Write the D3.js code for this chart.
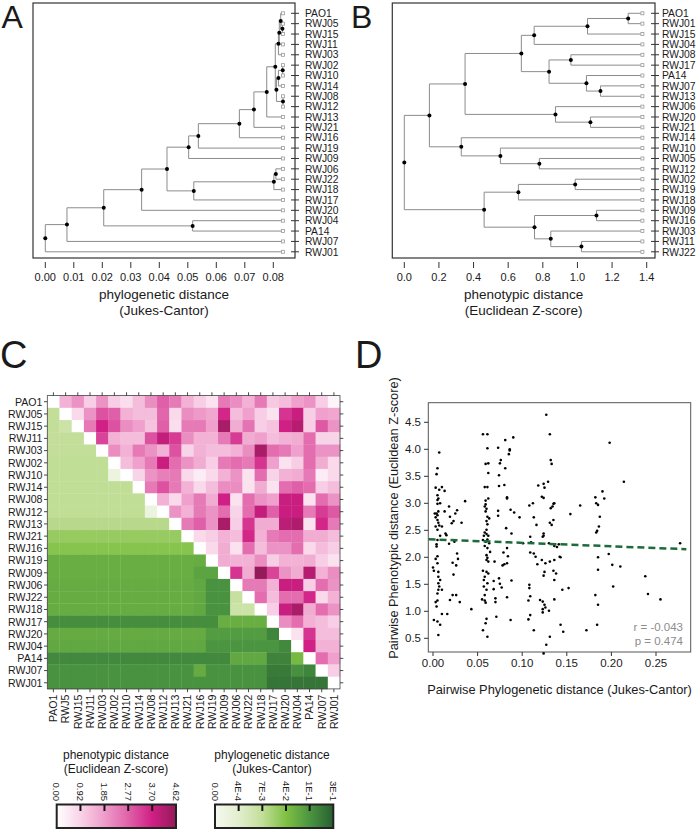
<!DOCTYPE html>
<html><head><meta charset="utf-8">
<script src="https://cdn.jsdelivr.net/npm/d3@7"></script>
<style>
body{margin:0;background:#fff}
svg{display:block}
text{font-family:"Liberation Sans",Arial,sans-serif;fill:#1a1a1a}
</style>
</head><body>
<svg id="c" width="700" height="831"></svg>
<script>
// ---------------- DATA ----------------
// Panel A: phylogenetic tree (Jukes-Cantor)
const leavesA = ["PAO1","RWJ05","RWJ15","RWJ11","RWJ03","RWJ02","RWJ10","RWJ14","RWJ08","RWJ12","RWJ13","RWJ21","RWJ16","RWJ19","RWJ09","RWJ06","RWJ22","RWJ18","RWJ17","RWJ20","RWJ04","PA14","RWJ07","RWJ01"];
const tipA = 0.0836;
// merges: [child, child, node position]; numbers refer to earlier merges
const mergesA = [
  ["RWJ05","RWJ15",0.0832],[ "PAO1",0,0.0826],[1,"RWJ11",0.0821],[2,"RWJ03",0.0818],
  ["RWJ02","RWJ10",0.0833],[4,"RWJ14",0.0818],["RWJ08","RWJ12",0.0834],[5,6,0.0811],
  [3,7,0.0807],[8,"RWJ13",0.0777],[9,"RWJ21",0.0732],[10,"RWJ16",0.0681],
  [11,"RWJ19",0.0537],[12,"RWJ09",0.0503],["RWJ06","RWJ22",0.0809],[14,"RWJ18",0.0802],
  [15,"RWJ17",0.0521],[13,16,0.0427],[17,"RWJ20",0.0338],["RWJ04","PA14",0.0517],
  [18,19,0.0205],[20,"RWJ07",0.0076],[21,"RWJ01",0.0]
];
const ticksA = [0,0.01,0.02,0.03,0.04,0.05,0.06,0.07,0.08];
const tickLabelsA = ["0.00","0.01","0.02","0.03","0.04","0.05","0.06","0.07","0.08"];

// Panel B: phenotypic tree (Euclidean Z-score)
const leavesB = ["PAO1","RWJ01","RWJ15","RWJ04","RWJ08","RWJ17","PA14","RWJ07","RWJ13","RWJ06","RWJ20","RWJ21","RWJ14","RWJ10","RWJ05","RWJ12","RWJ02","RWJ19","RWJ18","RWJ09","RWJ16","RWJ03","RWJ11","RWJ22"];
const tipB = 1.378;
const mergesB = [
  ["PAO1","RWJ01",1.293],[0,"RWJ15",1.058],[1,"RWJ04",0.750],["RWJ08","RWJ17",0.962],
  ["RWJ07","RWJ13",1.133],["PA14",4,1.052],[3,5,0.836],[2,6,0.676],
  ["RWJ20","RWJ21",1.075],["RWJ06",8,0.873],[7,9,0.351],["RWJ05","RWJ12",0.780],
  ["RWJ10",11,0.555],["RWJ14",12,0.329],[10,13,0.145],["RWJ02","RWJ19",0.987],
  [15,"RWJ18",0.659],["RWJ09","RWJ16",1.110],["RWJ11","RWJ22",1.023],["RWJ03",18,0.846],
  [17,19,0.752],[16,20,0.461],[14,21,0.0]
];
const ticksB = [0,0.2,0.4,0.6,0.8,1.0,1.2,1.4];
const tickLabelsB = ["0.0","0.2","0.4","0.6","0.8","1.0","1.2","1.4"];

// Panel C: heatmap
const heatRows = leavesA;
const heatColLabels = ["PAO1","RWJ5","RWJ15","RWJ11","RWJ03","RWJ02","RWJ10","RWJ14","RWJ08","RWJ12","RWJ13","RWJ21","RWJ16","RWJ19","RWJ09","RWJ06","RWJ22","RWJ18","RWJ17","RWJ20","RWJ04","PA14","RWJ07","RWJ01"];
// upper triangle: phenotypic distance, row i, columns i+1..23
const phenoUpper = [
  [1.5,2.0,1.0,2.0,1.0,0.7,1.3,2.1,2.8,2.4,1.5,1.0,0.6,2.4,2.1,1.5,2.4,1.1,1.3,1.8,2.0,1.0,0.2],
  [0.8,2.0,3.0,2.8,1.5,1.3,1.3,2.7,0.8,2.1,1.9,1.7,3.6,1.3,1.8,1.0,0.6,3.4,3.8,1.0,1.8,1.7],
  [2.4,3.7,3.0,2.1,1.8,1.2,2.8,0.7,2.4,2.4,1.8,4.3,1.6,2.5,1.0,1.2,3.7,4.1,1.0,2.9,2.0],
  [3.2,1.5,1.3,1.3,3.0,3.9,3.3,2.1,1.5,1.5,2.4,3.3,1.6,1.8,1.3,1.5,1.6,2.6,0.9,0.9],
  [2.1,1.5,2.4,2.0,1.5,3.0,0.9,1.5,1.3,1.3,1.5,2.1,4.3,2.6,2.4,1.8,2.6,2.0,2.0],
  [1.3,1.8,2.4,3.8,2.6,2.0,1.6,1.0,2.4,2.6,2.4,3.4,1.8,0.6,1.0,2.6,1.6,0.8],
  [0.9,2.0,2.3,2.4,0.8,0.4,0.8,1.5,2.0,0.6,2.6,0.9,1.5,1.6,2.4,0.4,0.8],
  [2.4,3.0,2.4,1.5,0.8,1.3,2.1,2.1,0.6,1.6,0.6,2.6,2.8,2.6,1.0,1.3],
  [1.5,0.8,1.8,2.4,1.6,3.7,0.6,2.6,2.0,1.8,3.8,3.8,0.6,2.6,2.0],
  [2.0,1.5,2.4,2.0,2.6,0.9,2.6,3.9,2.8,3.8,3.8,2.4,3.3,2.9],
  [2.4,2.8,2.0,4.3,1.0,3.4,1.6,1.6,4.0,4.2,0.6,3.6,2.4],
  [0.8,1.0,1.5,1.3,3.6,1.5,2.4,2.6,2.6,1.6,1.6,1.3],
  [0.8,1.6,0.6,2.6,1.3,2.0,2.0,2.6,0.8,1.3,1.0],
  [1.6,1.5,1.5,2.1,1.0,1.5,1.5,1.6,1.0,0.6],
  [3.4,1.6,4.6,3.2,2.0,1.6,4.1,1.5,2.1],
  [2.4,2.4,1.5,3.8,3.8,1.0,2.6,2.0],
  [2.6,1.3,2.6,2.6,3.6,0.8,1.5],
  [1.0,3.8,4.3,1.6,2.6,2.0],
  [2.1,2.6,1.5,1.3,1.0],
  [0.6,3.4,1.3,1.3],
  [3.7,1.5,1.5],
  [2.6,1.8],
  [1.0],
  []
];
// lower triangle: phylogenetic distance, row i, columns 0..i-1
const phyloLower = [
  [],
  [0.007],
  [0.007,0.005],
  [0.007,0.007,0.007],
  [0.007,0.007,0.007,0.007],
  [0.0075,0.0075,0.0075,0.0075,0.0075],
  [0.0075,0.0075,0.0075,0.0075,0.0075,0.0002],
  [0.0075,0.0075,0.0075,0.0075,0.0075,0.0075,0.0075],
  [0.0075,0.0075,0.0075,0.0075,0.0075,0.0075,0.0075,0.0075],
  [0.0075,0.0075,0.0075,0.0075,0.0075,0.0075,0.0075,0.0075,0.0002],
  [0.012,0.012,0.012,0.012,0.012,0.012,0.012,0.012,0.012,0.012],
  [0.028,0.028,0.028,0.028,0.028,0.028,0.028,0.028,0.028,0.028,0.028],
  [0.036,0.036,0.036,0.036,0.036,0.036,0.036,0.036,0.036,0.036,0.036,0.036],
  [0.065,0.065,0.065,0.065,0.065,0.065,0.065,0.065,0.065,0.065,0.065,0.065,0.068],
  [0.065,0.065,0.065,0.065,0.065,0.065,0.065,0.065,0.065,0.065,0.065,0.065,0.08,0.08],
  [0.068,0.068,0.068,0.068,0.068,0.068,0.068,0.068,0.068,0.068,0.068,0.068,0.075,0.11,0.11],
  [0.068,0.068,0.068,0.068,0.068,0.068,0.068,0.068,0.068,0.068,0.068,0.068,0.075,0.11,0.11,0.006],
  [0.068,0.068,0.068,0.068,0.068,0.068,0.068,0.068,0.068,0.068,0.068,0.068,0.075,0.11,0.11,0.005,0.005],
  [0.13,0.13,0.13,0.13,0.13,0.13,0.13,0.13,0.13,0.13,0.13,0.13,0.13,0.13,0.065,0.065,0.065,0.065],
  [0.07,0.07,0.07,0.07,0.07,0.07,0.07,0.07,0.07,0.07,0.07,0.07,0.07,0.09,0.09,0.09,0.09,0.09,0.16],
  [0.075,0.075,0.075,0.075,0.075,0.075,0.075,0.075,0.075,0.075,0.075,0.075,0.075,0.1,0.1,0.1,0.1,0.1,0.1,0.15],
  [0.15,0.15,0.15,0.15,0.15,0.15,0.15,0.15,0.15,0.15,0.15,0.15,0.15,0.15,0.15,0.075,0.075,0.075,0.17,0.17,0.05],
  [0.11,0.11,0.11,0.11,0.11,0.11,0.11,0.11,0.11,0.11,0.11,0.11,0.07,0.11,0.11,0.11,0.11,0.11,0.2,0.2,0.12,0.16],
  [0.11,0.11,0.11,0.11,0.11,0.11,0.11,0.11,0.11,0.11,0.11,0.11,0.11,0.11,0.11,0.11,0.11,0.11,0.22,0.22,0.22,0.22,0.22]
];
const phenoTickVals = [0,0.92,1.85,2.77,3.70,4.62];
const phenoTickLabels = ["0.00","0.92","1.85","2.77","3.70","4.62"];
const phyloTickVals = [0,0.0004,0.007,0.04,0.1,0.3];
const phyloTickLabels = ["0.00","4E-4","7E-3","4E-2","1E-1","3E-1"];

// Panel D: pairwise scatter
const phyloPairs = [
  0.007,0.005,0.004,0.003,0.007,0.010,0.013,0.005,0.006,0.005,0.005,0.004,0.005,0.003,0.005,0.006,0.007,0.005,0.010,0.005,0.004,0.004,0.005,0.005,0.000,0.001,0.006,0.006,0.006,0.007,0.006,0.010,0.005,0.005,0.003,0.010,0.001,0.005,0.008,0.002,0.008,0.006,0.003,0.008,0.003,0.008,0.004,0.006,0.014,0.013,
  0.018,0.021,0.019,0.023,0.025,0.027,0.032,0.036,0.018,0.024,0.022,0.026,0.027,0.028,0.023,0.019,0.022,0.026,0.030,0.043,0.015,0.016,
  0.056,0.061,0.061,0.059,0.062,0.062,0.058,0.061,0.059,0.059,0.060,0.059,0.061,0.060,0.061,0.060,0.058,0.057,0.060,0.061,0.056,0.063,0.061,0.064,0.060,0.061,0.060,0.056,0.060,0.062,0.058,0.057,0.061,0.060,0.058,0.055,0.058,0.059,0.060,0.059,0.062,0.058,0.062,0.057,0.059,0.061,0.056,0.063,0.058,0.062,
  0.073,0.075,0.076,0.074,0.074,0.080,0.081,0.086,0.085,0.086,0.090,0.081,0.083,0.083,0.073,0.073,0.087,0.091,0.082,0.088,0.069,0.079,0.083,0.084,0.078,0.080,0.083,0.074,0.075,0.077,0.068,0.068,0.070,0.070,0.083,0.088,0.097,0.101,0.071,0.087,
  0.127,0.131,0.132,0.133,0.129,0.124,0.125,0.118,0.122,0.124,0.135,0.136,0.134,0.132,0.108,0.112,0.113,0.135,0.131,0.133,0.124,0.124,0.123,0.109,0.110,0.130,0.136,0.139,0.142,0.143,0.109,0.113,0.115,0.122,0.131,0.126,0.117,0.125,0.135,0.138,0.124,0.136,0.145,0.152,0.108,0.108,0.109,0.107,0.120,0.123,0.125,0.123,0.123,0.126,0.130,0.136,0.109,0.107,0.143,0.127,0.124,0.113,0.131,0.146,0.116,0.136,0.141,
  0.154,0.165,0.182,0.183,0.185,0.190,0.192,0.187,0.186,0.184,0.183,0.198,0.197,0.185,0.185,0.201,0.210,0.202,0.182,0.185,0.184,0.172,
  0.214,0.238,0.241,0.255,0.277
];
const phenoPairs = [
  3.94,3.65,3.54,3.29,3.25,3.30,3.23,3.15,3.09,3.06,2.99,2.81,2.78,2.74,2.69,2.64,2.59,2.51,2.57,2.32,2.24,2.20,2.02,1.89,1.81,1.75,1.73,1.64,1.52,1.46,1.40,1.40,1.33,1.20,1.17,0.95,0.84,0.81,0.75,2.81,3.00,2.85,2.57,2.40,1.97,1.58,1.09,0.56,2.44,2.85,
  2.94,2.63,2.75,2.67,2.81,2.87,2.64,3.04,2.25,2.29,1.90,1.85,2.07,1.97,1.68,1.21,1.30,1.30,1.17,1.04,2.41,0.95,
  4.28,4.28,4.02,3.73,3.74,3.56,3.30,3.30,3.05,2.98,2.90,2.85,2.75,2.67,2.61,2.51,2.46,2.40,2.43,2.33,2.32,2.26,2.17,2.10,2.04,1.99,1.95,1.75,1.73,1.70,1.64,1.58,1.52,1.40,1.30,1.22,1.20,1.16,0.86,2.29,2.40,2.21,1.92,1.46,0.78,0.53,0.65,2.72,2.94,3.09,
  4.03,3.74,3.80,3.52,3.32,3.34,4.17,3.98,3.91,4.00,4.22,3.65,3.11,3.09,2.86,2.77,2.88,2.83,2.54,2.44,1.92,2.09,2.17,2.02,1.85,1.87,1.89,1.61,1.51,1.44,1.56,1.41,1.24,1.17,1.26,1.57,2.74,2.26,0.90,0.84,
  4.64,4.28,3.80,3.73,3.40,3.36,3.29,3.33,3.12,3.10,2.99,3.00,2.94,2.91,2.96,3.00,2.74,2.69,2.64,2.60,2.44,2.40,2.38,2.38,2.28,2.26,2.21,2.19,2.01,2.00,2.09,2.07,2.01,1.95,1.92,1.89,1.87,1.73,1.75,1.70,1.66,1.58,1.40,1.43,1.49,1.43,1.28,1.20,1.21,1.18,1.12,1.04,0.98,1.07,1.01,1.22,0.93,0.85,0.75,0.38,0.22,0.65,0.53,0.62,2.60,1.95,2.24,
  2.80,2.96,3.11,3.00,2.97,3.22,3.09,2.75,2.57,2.49,2.46,4.12,2.06,2.00,1.77,1.86,1.83,1.46,1.30,1.12,0.75,0.65,
  3.40,1.65,1.32,1.22,2.26
];
const trendX = [-0.005, 0.284];
const trendY = [2.335, 2.150];
const statsText = ["r = -0.043", "p = 0.474"];
const ticksDx = [0,0.05,0.10,0.15,0.20,0.25];
const tickLabelsDx = ["0.00","0.05","0.10","0.15","0.20","0.25"];
const ticksDy = [0.5,1.0,1.5,2.0,2.5,3.0,3.5,4.0,4.5];
const tickLabelsDy = ["0.5","1.0","1.5","2.0","2.5","3.0","3.5","4.0","4.5"];

// ---------------- DRAWING ----------------
const svg = d3.select("#c");
const LINE = "#8c8c8c";

function letter(t, x, y, size) {
  svg.append("text").attr("x", x).attr("y", y).attr("font-size", size).text(t);
}

function drawTree(leaves, merges, tip, xs, frame, ticks, tickLabels, labelOffset, title) {
  const ys = d3.scalePoint().domain(leaves).range([13.3, 251.8]);
  const g = svg.append("g");
  g.append("rect").attr("x", frame[0]).attr("y", frame[1])
    .attr("width", frame[2] - frame[0]).attr("height", frame[3] - frame[1])
    .attr("fill", "none").attr("stroke", "#333").attr("stroke-width", 1.2);
  const pos = {};
  leaves.forEach(l => pos[l] = {x: xs(tip), y: ys(l), leaf: true});
  const nodes = [];
  const get = c => typeof c === "number" ? nodes[c] : pos[c];
  const lines = g.append("g").attr("fill", "none").attr("stroke", LINE).attr("stroke-width", 1);
  merges.forEach(([a, b, h]) => {
    const A = get(a), B = get(b);
    const n = {x: xs(h), y: (A.y + B.y) / 2};
    const ax = A.leaf ? A.x - 2 : A.x, bx = B.leaf ? B.x - 2 : B.x;
    lines.append("path").attr("d", `M${ax},${A.y}H${n.x}V${B.y}H${bx}`);
    nodes.push(n);
  });
  g.append("g").selectAll("rect").data(leaves).join("rect")
    .attr("x", d => xs(tip) - 2).attr("y", d => ys(d) - 1.5)
    .attr("width", 3).attr("height", 3)
    .attr("fill", "#fff").attr("stroke", "#999").attr("stroke-width", 0.8);
  g.append("g").selectAll("circle").data(nodes).join("circle")
    .attr("cx", d => d.x).attr("cy", d => d.y).attr("r", 2).attr("fill", "#000");
  const right = frame[2];
  g.append("g").selectAll("line").data(leaves).join("line")
    .attr("x1", right - 4).attr("x2", right + 4)
    .attr("y1", d => ys(d)).attr("y2", d => ys(d))
    .attr("stroke", "#333").attr("stroke-width", 1);
  g.append("g").selectAll("text").data(leaves).join("text")
    .attr("x", right + labelOffset).attr("y", d => ys(d)).attr("dy", "0.36em")
    .attr("font-size", 10.3).text(d => d);
  g.append("g").selectAll("line").data(ticks).join("line")
    .attr("x1", d => xs(d)).attr("x2", d => xs(d)).attr("y1", 262).attr("y2", 268)
    .attr("stroke", "#333").attr("stroke-width", 1);
  g.append("g").selectAll("text").data(ticks).join("text")
    .attr("x", d => xs(d)).attr("y", 281).attr("text-anchor", "middle")
    .attr("font-size", 11).text((d, i) => tickLabels[i]);
  const cx = (frame[0] + frame[2]) / 2;
  g.append("text").attr("x", cx).attr("y", 299).attr("text-anchor", "middle").attr("font-size", 13.5).text(title[0]);
  g.append("text").attr("x", cx).attr("y", 315).attr("text-anchor", "middle").attr("font-size", 13.5).text(title[1]);
}

// Panel A
letter("A", 1.5, 28, 32);
drawTree(leavesA, mergesA, tipA,
  d3.scaleLinear().domain([0, 0.08]).range([45.3, 273.3]),
  [33, 3, 295, 258], ticksA, tickLabelsA, 10,
  ["phylogenetic distance", "(Jukes-Cantor)"]);

// Panel B
letter("B", 351, 28, 32);
drawTree(leavesB, mergesB, tipB,
  d3.scaleLinear().domain([0, 1.4]).range([404.3, 646.7]),
  [392.3, 3, 655, 258], ticksB, tickLabelsB, 7,
  ["phenotypic distance", "(Euclidean Z-score)"]);

// Colour scales
const pinkStops = ["#ffffff", "#f8d3e7", "#ee9dca", "#e062a9", "#d01f85", "#941a58"];
const pinkColor = d3.scaleLinear().domain(phenoTickVals).range(pinkStops).clamp(true);
const greenStops = ["#f5f9ef", "#e2eece", "#c2de98", "#7fc043", "#4b9541", "#275f30"];
const greenPos = d3.scaleLinear().domain(phyloTickVals).range([0, 0.2, 0.4, 0.6, 0.8, 1]).clamp(true);
const greenByPos = d3.scaleLinear().domain([0, 0.2, 0.4, 0.6, 0.8, 1]).range(greenStops);
const greenColor = v => greenByPos(greenPos(v));

// Panel C heatmap
letter("C", 0, 368, 38);
const hx = d3.scaleBand().domain(d3.range(24)).range([47.3, 340]);
const hy = d3.scaleBand().domain(d3.range(24)).range([395.6, 688.9]);
const cells = [];
for (let i = 0; i < 24; i++) for (let j = 0; j < 24; j++) {
  let c;
  if (i === j) c = "#ffffff";
  else if (j > i) c = pinkColor(phenoUpper[i][j - i - 1]);
  else c = greenColor(phyloLower[i][j]);
  cells.push({i, j, c});
}
const hg = svg.append("g");
hg.selectAll("rect").data(cells).join("rect")
  .attr("x", d => hx(d.j)).attr("y", d => hy(d.i))
  .attr("width", hx.bandwidth() + 0.3).attr("height", hy.bandwidth() + 0.3)
  .attr("fill", d => d.c);
hg.append("rect").attr("x", 47.3).attr("y", 395.6).attr("width", 292.7).attr("height", 293.3)
  .attr("fill", "none").attr("stroke", "#444").attr("stroke-width", 0.8);
const hc = i => hx(i) + hx.bandwidth() / 2, hr = i => hy(i) + hy.bandwidth() / 2;
const tk = hg.append("g").attr("stroke", "#333").attr("stroke-width", 0.9);
d3.range(24).forEach(k => {
  tk.append("line").attr("x1", hc(k)).attr("x2", hc(k)).attr("y1", 392.3).attr("y2", 395.6);
  tk.append("line").attr("x1", hc(k)).attr("x2", hc(k)).attr("y1", 688.9).attr("y2", 692.2);
  tk.append("line").attr("x1", 44).attr("x2", 47.3).attr("y1", hr(k)).attr("y2", hr(k));
  tk.append("line").attr("x1", 340).attr("x2", 343.3).attr("y1", hr(k)).attr("y2", hr(k));
});
hg.append("g").selectAll("text").data(heatRows).join("text")
  .attr("x", 42.5).attr("y", (d, i) => hr(i)).attr("dy", "0.36em").attr("text-anchor", "end")
  .attr("font-size", 10.6).text(d => d);
hg.append("g").selectAll("text").data(heatColLabels).join("text")
  .attr("transform", (d, i) => `translate(${hc(i)},694.5) rotate(-90)`)
  .attr("dy", "0.36em").attr("text-anchor", "end").attr("font-size", 10.6).text(d => d);

// Legends
function colorBar(x0, x1, title, center, colorAt, tickPos, tickLabels, id) {
  const defs = svg.append("defs");
  const grad = defs.append("linearGradient").attr("id", id);
  d3.range(0, 1.0001, 0.02).forEach(p => grad.append("stop").attr("offset", p).attr("stop-color", colorAt(p)));
  svg.append("text").attr("x", center).attr("y", 759).attr("text-anchor", "middle").attr("font-size", 12).text(title[0]);
  svg.append("text").attr("x", center).attr("y", 773).attr("text-anchor", "middle").attr("font-size", 12).text(title[1]);
  svg.append("rect").attr("x", x0).attr("y", 804.5).attr("width", x1 - x0).attr("height", 23.5)
    .attr("fill", `url(#${id})`).attr("stroke", "#222").attr("stroke-width", 2);
  const xs = d3.scaleLinear().domain([0, 1]).range([x0, x1]);
  tickPos.forEach((p, i) => {
    if (i > 0 && i < tickPos.length - 1)
      svg.append("line").attr("x1", xs(p)).attr("x2", xs(p)).attr("y1", 805).attr("y2", 811)
        .attr("stroke", "#111").attr("stroke-width", 2);
    svg.append("text").attr("transform", `translate(${xs(p)},801) rotate(90)`)
      .attr("dy", "0.35em").attr("text-anchor", "end").attr("font-size", 9.5).text(tickLabels[i]);
  });
}
const pinkPos = d3.scaleLinear().domain([0, 4.62]).range([0, 1]);
colorBar(56.7, 176, ["phenotypic distance", "(Euclidean Z-score)"], 116,
  p => pinkColor(p * 4.62), phenoTickVals.map(v => pinkPos(v)), phenoTickLabels, "gp");
colorBar(215, 333.3, ["phylogenetic distance", "(Jukes-Cantor)"], 272,
  p => greenByPos(p), phyloTickVals.map(v => greenPos(v)), phyloTickLabels, "gg");

// Panel D scatter
letter("D", 355, 368, 38);
const xD = d3.scaleLinear().domain([0, 0.25]).range([433, 656]);
const yD = d3.scaleLinear().domain([0, 5]).range([665.3, 395.3]);
const dg = svg.append("g");
dg.append("rect").attr("x", 428.3).attr("y", 402.7).attr("width", 262.4).attr("height", 249.3)
  .attr("fill", "none").attr("stroke", "#555").attr("stroke-width", 1);
dg.append("g").selectAll("line").data(ticksDy).join("line")
  .attr("x1", 424).attr("x2", 428.3).attr("y1", d => yD(d)).attr("y2", d => yD(d))
  .attr("stroke", "#333");
dg.append("g").selectAll("text").data(ticksDy).join("text")
  .attr("x", 421).attr("y", d => yD(d)).attr("dy", "0.36em").attr("text-anchor", "end")
  .attr("font-size", 11.5).text((d, i) => tickLabelsDy[i]);
dg.append("g").selectAll("line").data(ticksDx).join("line")
  .attr("x1", d => xD(d)).attr("x2", d => xD(d)).attr("y1", 652).attr("y2", 656)
  .attr("stroke", "#333");
dg.append("g").selectAll("text").data(ticksDx).join("text")
  .attr("x", d => xD(d)).attr("y", 667).attr("text-anchor", "middle")
  .attr("font-size", 11.5).text((d, i) => tickLabelsDx[i]);
dg.append("g").selectAll("circle").data(phyloPairs.map((x, i) => [x, phenoPairs[i]])).join("circle")
  .attr("cx", d => xD(d[0])).attr("cy", d => yD(d[1])).attr("r", 1.3).attr("fill", "#000");
dg.append("line").attr("x1", xD(trendX[0])).attr("x2", xD(trendX[1]))
  .attr("y1", yD(trendY[0])).attr("y2", yD(trendY[1]))
  .attr("stroke", "#1d6b3b").attr("stroke-width", 2.5).attr("stroke-dasharray", "7,4");
dg.append("text").attr("x", 683).attr("y", 631).attr("text-anchor", "end").attr("font-size", 11.5)
  .style("fill", "#8c8c8c").text(statsText[0]);
dg.append("text").attr("x", 683).attr("y", 645).attr("text-anchor", "end").attr("font-size", 11.5)
  .style("fill", "#8c8c8c").text(statsText[1]);
dg.append("text").attr("x", 559.5).attr("y", 694).attr("text-anchor", "middle").attr("font-size", 12.8)
  .text("Pairwise Phylogenetic distance (Jukes-Cantor)");
dg.append("text").attr("transform", "translate(398,518) rotate(-90)").attr("text-anchor", "middle")
  .attr("font-size", 12.8).text("Pairwise Phenotypic distance (Euclidean Z-score)");
</script>
</body></html>
